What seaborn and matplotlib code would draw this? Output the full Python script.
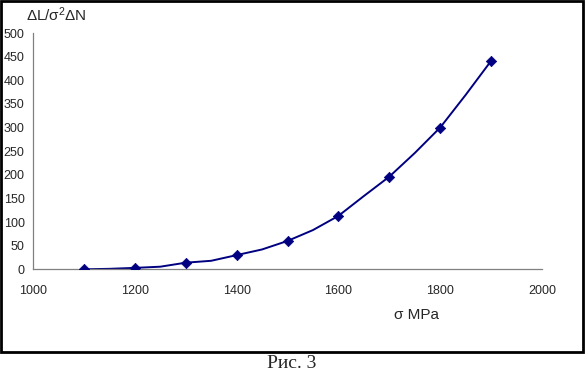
# -*- coding: utf-8 -*-
import numpy as np
import pandas as pd
import matplotlib
matplotlib.use("Agg")
import matplotlib.pyplot as plt
from matplotlib.patches import Rectangle
import seaborn as sns

# measured points (markers)
sigma = [1100, 1200, 1300, 1400, 1500, 1600, 1700, 1800, 1900]
ratio = [0, 3, 14, 30, 60, 113, 196, 300, 441]

# line goes through extra points between the markers
sigma_line = [1100, 1150, 1200, 1250, 1300, 1350, 1400, 1450, 1500,
              1550, 1600, 1650, 1700, 1750, 1800, 1850, 1900]
ratio_line = [0, 1, 3, 5.5, 14, 18, 30, 42, 60,
              83, 113, 155, 196, 246, 300, 369, 441]

x_ticks = [1000, 1200, 1400, 1600, 1800, 2000]
y_ticks = [0, 50, 100, 150, 200, 250, 300, 350, 400, 450, 500]

df_pts = pd.DataFrame({"sigma": sigma, "ratio": ratio})
df_line = pd.DataFrame({"sigma": sigma_line, "ratio": ratio_line})

sns.set_style("white")
plt.rcParams["font.family"] = ["Liberation Sans", "DejaVu Sans"]
plt.rcParams["mathtext.fontset"] = "custom"
plt.rcParams["mathtext.rm"] = "Liberation Sans"
plt.rcParams["mathtext.it"] = "Liberation Sans"

W, H = 585, 374
fig = plt.figure(figsize=(W / 100, H / 100), dpi=100)
ax = fig.add_axes([33 / W, 1 - 269.3 / H, (542 - 33) / W, (269.3 - 33) / H])

sns.lineplot(data=df_line, x="sigma", y="ratio", ax=ax, color="#000080",
             linewidth=1.4)
sns.scatterplot(data=df_pts, x="sigma", y="ratio", ax=ax, color="#000080",
                marker="D", s=28, edgecolor="#000080", linewidth=0.5, zorder=3)

ax.set_xlim(1000, 2000)
ax.set_ylim(0, 500)
ax.set_xticks(x_ticks)
ax.set_yticks(y_ticks)
ax.tick_params(axis="both", labelsize=9, length=3, width=0.8, color="#808080",
               direction="out", pad=3)
ax.tick_params(axis="x", pad=8)
for side in ["top", "right"]:
    ax.spines[side].set_visible(False)
for side in ["left", "bottom"]:
    ax.spines[side].set_color("#808080")
    ax.spines[side].set_linewidth(0.9)
ax.set_xlabel("")
ax.set_ylabel("")

# labels
fig.text(26 / W, 1 - 15 / H, r"ΔL/σ$^2$ΔN", fontsize=11, ha="left", va="center")
fig.text(417 / W, 1 - 315 / H, "σ MPa", fontsize=11, ha="center", va="center")

# frame around the chart
fig.add_artist(Rectangle((1 / W, 1 - 352 / H), (582 / W), (351 / H),
                         transform=fig.transFigure, fill=False,
                         edgecolor="black", linewidth=2))

fig.text(292 / W, 1 - 363 / H, "Рис. 3", fontsize=14, ha="center",
         va="center", family=["Liberation Serif", "DejaVu Serif"])

fig.savefig("out.png", dpi=100)
